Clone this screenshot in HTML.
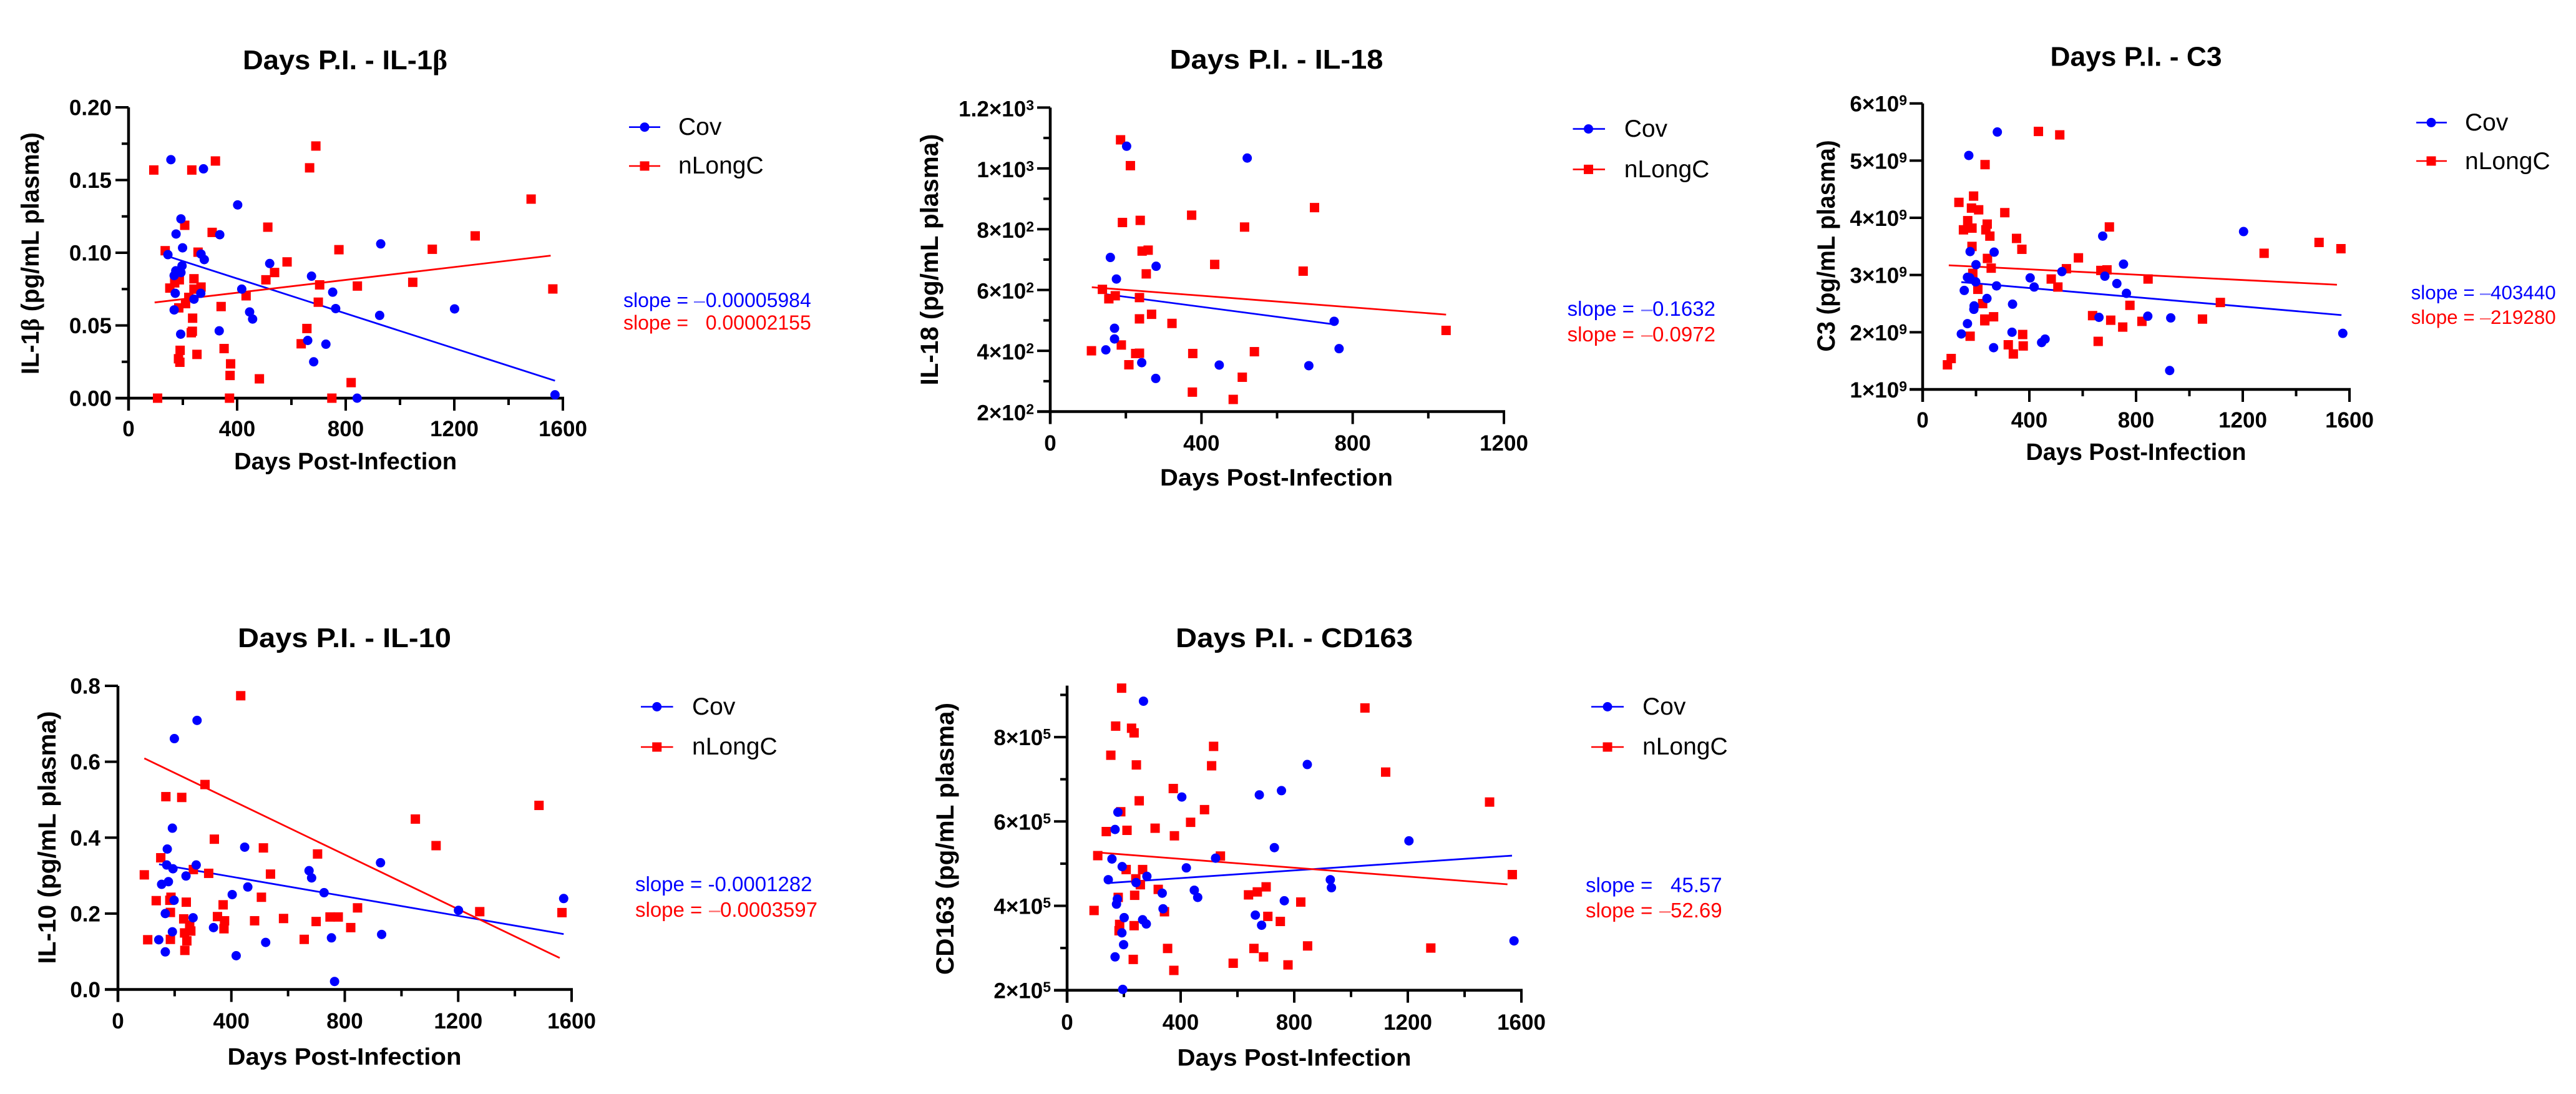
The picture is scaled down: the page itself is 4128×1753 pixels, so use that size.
<!DOCTYPE html>
<html lang="en">
<head>
<meta charset="utf-8">
<title>Days Post-Infection scatter panels</title>
<style>
html,body{margin:0;padding:0;background:#fff;width:4128px;height:1753px;overflow:hidden}
svg{display:block}
text{font-family:"Liberation Sans",sans-serif;fill:#000}
.title{font-size:44px;font-weight:700;text-anchor:middle}
.xtitle{font-size:38px;font-weight:700;text-anchor:middle}
.ytitle{font-size:40px;font-weight:700;text-anchor:middle}
.legend{font-size:39px}
.slope{font-size:32px}
.greek{font-family:"Liberation Serif",serif}
.tick-label{font-weight:700;font-size:35px}
</style>
</head>
<body>
<svg id="fig" xmlns="http://www.w3.org/2000/svg" width="4128" height="1753" viewBox="0 0 4128 1753">
<rect width="4128" height="1753" fill="#fff"/>

<g id="p-il1b">
  <g id="il1b-plot"></g>
  <text class="title" x="553" y="111" textLength="328" lengthAdjust="spacingAndGlyphs">Days P.I. - IL-1<tspan class="greek">β</tspan></text>
  <text class="xtitle" x="553.6" y="752" textLength="357" lengthAdjust="spacingAndGlyphs">Days Post-Infection</text>
  <text class="ytitle" transform="translate(62,406) rotate(-90)" textLength="388" lengthAdjust="spacingAndGlyphs">IL-1<tspan class="greek">β</tspan> (pg/mL plasma)</text>
  <g>
    <line x1="1008" x2="1058" y1="203.7" y2="203.7" stroke="#00f" stroke-width="2.6"/>
    <circle cx="1033" cy="203.7" r="7.5" fill="#00f"/>
    <text class="legend" x="1087" y="216">Cov</text>
    <line x1="1008" x2="1058" y1="266" y2="266" stroke="#f00" stroke-width="2.6"/>
    <rect x="1025.5" y="258.5" width="15" height="15" fill="#f00"/>
    <text class="legend" x="1087" y="278">nLongC</text>
  </g>
  <text class="slope" x="999" y="492" style="fill:#00f">slope = <tspan x="1112" fill-opacity="0.6" style="fill:#00f">–</tspan><tspan x="1130.7" style="fill:#00f">0.00005984</tspan></text>
  <text class="slope" x="999" y="528" style="fill:#f00">slope = <tspan x="1130.7" style="fill:#f00">0.00002155</tspan></text>
</g>

<g id="p-il18">
  <g id="il18-plot"></g>
  <text class="title" x="2045.5" y="110" textLength="342" lengthAdjust="spacingAndGlyphs">Days P.I. - IL-18</text>
  <text class="xtitle" x="2045.5" y="778" textLength="373" lengthAdjust="spacingAndGlyphs">Days Post-Infection</text>
  <text class="ytitle" transform="translate(1503,416) rotate(-90)" textLength="403" lengthAdjust="spacingAndGlyphs">IL-18 (pg/mL plasma)</text>
  <g>
    <line x1="2520.5" x2="2572" y1="206.6" y2="206.6" stroke="#00f" stroke-width="2.6"/>
    <circle cx="2545.5" cy="206.6" r="7.5" fill="#00f"/>
    <text class="legend" x="2602.7" y="219">Cov</text>
    <line x1="2520.5" x2="2572" y1="271.4" y2="271.4" stroke="#f00" stroke-width="2.6"/>
    <rect x="2538" y="263.9" width="15" height="15" fill="#f00"/>
    <text class="legend" x="2602.7" y="284">nLongC</text>
  </g>
  <text class="slope" x="2511.6" y="506" style="fill:#00f;font-size:33px">slope = <tspan x="2630" fill-opacity="0.6" style="fill:#00f">–</tspan><tspan x="2648" style="fill:#00f">0.1632</tspan></text>
  <text class="slope" x="2511.6" y="547" style="fill:#f00;font-size:33px">slope = <tspan x="2630" fill-opacity="0.6" style="fill:#f00">–</tspan><tspan x="2648" style="fill:#f00">0.0972</tspan></text>
</g>

<g id="p-c3">
  <g id="c3-plot"></g>
  <text class="title" x="3423" y="105.6" textLength="275" lengthAdjust="spacingAndGlyphs">Days P.I. - C3</text>
  <text class="xtitle" x="3423" y="737" textLength="353" lengthAdjust="spacingAndGlyphs">Days Post-Infection</text>
  <text class="ytitle" transform="translate(2940,394) rotate(-90)" textLength="339" lengthAdjust="spacingAndGlyphs">C3 (pg/mL plasma)</text>
  <g>
    <line x1="3872" x2="3921" y1="196.4" y2="196.4" stroke="#00f" stroke-width="2.6"/>
    <circle cx="3896" cy="196.4" r="7.5" fill="#00f"/>
    <text class="legend" x="3950" y="209">Cov</text>
    <line x1="3872" x2="3921" y1="258" y2="258" stroke="#f00" stroke-width="2.6"/>
    <rect x="3888.5" y="250.5" width="15" height="15" fill="#f00"/>
    <text class="legend" x="3950" y="271">nLongC</text>
  </g>
  <text class="slope" x="3863.6" y="479.6" style="fill:#00f;font-size:31.4px">slope = <tspan x="3974" fill-opacity="0.6" style="fill:#00f">–</tspan><tspan x="3991" style="fill:#00f">403440</tspan></text>
  <text class="slope" x="3863.6" y="519" style="fill:#f00;font-size:31.4px">slope = <tspan x="3974" fill-opacity="0.6" style="fill:#f00">–</tspan><tspan x="3991" style="fill:#f00">219280</tspan></text>
</g>

<g id="p-il10">
  <g id="il10-plot"></g>
  <text class="title" x="552" y="1037" textLength="342" lengthAdjust="spacingAndGlyphs">Days P.I. - IL-10</text>
  <text class="xtitle" x="552" y="1706" textLength="375" lengthAdjust="spacingAndGlyphs">Days Post-Infection</text>
  <text class="ytitle" transform="translate(89,1342) rotate(-90)" textLength="405" lengthAdjust="spacingAndGlyphs">IL-10 (pg/mL plasma)</text>
  <g>
    <line x1="1027" x2="1078.6" y1="1132.5" y2="1132.5" stroke="#00f" stroke-width="2.6"/>
    <circle cx="1052.7" cy="1132.5" r="7.5" fill="#00f"/>
    <text class="legend" x="1109" y="1145">Cov</text>
    <line x1="1027" x2="1078.6" y1="1197" y2="1197" stroke="#f00" stroke-width="2.6"/>
    <rect x="1045.2" y="1189.5" width="15" height="15" fill="#f00"/>
    <text class="legend" x="1109" y="1209">nLongC</text>
  </g>
  <text class="slope" x="1018" y="1428" style="fill:#00f;font-size:33px">slope = -0.0001282</text>
  <text class="slope" x="1018" y="1469" style="fill:#f00;font-size:33px">slope = <tspan x="1136" fill-opacity="0.6" style="fill:#f00">–</tspan><tspan x="1154" style="fill:#f00">0.0003597</tspan></text>
</g>

<g id="p-cd163">
  <g id="cd163-plot"></g>
  <text class="title" x="2074" y="1037" textLength="380" lengthAdjust="spacingAndGlyphs">Days P.I. - CD163</text>
  <text class="xtitle" x="2074" y="1707.6" textLength="375" lengthAdjust="spacingAndGlyphs">Days Post-Infection</text>
  <text class="ytitle" transform="translate(1528,1344) rotate(-90)" textLength="436" lengthAdjust="spacingAndGlyphs">CD163 (pg/mL plasma)</text>
  <g>
    <line x1="2550" x2="2602" y1="1132.5" y2="1132.5" stroke="#00f" stroke-width="2.6"/>
    <circle cx="2576" cy="1132.5" r="7.5" fill="#00f"/>
    <text class="legend" x="2632" y="1145">Cov</text>
    <line x1="2550" x2="2602" y1="1197" y2="1197" stroke="#f00" stroke-width="2.6"/>
    <rect x="2568.5" y="1189.5" width="15" height="15" fill="#f00"/>
    <text class="legend" x="2632" y="1209">nLongC</text>
  </g>
  <text class="slope" x="2541" y="1429.4" style="fill:#00f;font-size:33px">slope = <tspan x="2677" style="fill:#00f">45.57</tspan></text>
  <text class="slope" x="2541" y="1470" style="fill:#f00;font-size:33px">slope = <tspan x="2659" fill-opacity="0.6" style="fill:#f00">–</tspan><tspan x="2677" style="fill:#f00">52.69</tspan></text>
</g>
</svg>

<script>
/* ---------- shared tick data ---------- */
const xMajor1600 = [0, 400, 800, 1200, 1600];
const xMinor1600 = [200, 600, 1000, 1400];
const xMajor1200 = [0, 400, 800, 1200];
const xMinor1200 = [200, 600, 1000];

/* ---------- IL-1beta ---------- */
const il1bCovDays = [156,276,402,193,175,336,199,145,267,279,929,520,197,174,193,168,674,417,172,266,752,241,168,763,446,457,925,334,192,660,727,682,842,1201,1571];
const il1bCovValues = [.164,.1577,.1329,.1233,.1129,.1124,.1034,.0987,.0991,.0953,.1061,.0926,.091,.0876,.0864,.0843,.0839,.075,.0721,.0721,.0729,.0681,.0607,.0616,.0593,.0544,.0569,.0463,.044,.0397,.0371,.025,0,.0614,.0023];
const il1bLongDays = [93,233,320,690,667,207,308,513,135,256,775,1119,584,538,506,241,187,170,152,267,241,704,843,1047,433,222,210,699,185,341,236,235,231,657,636,352,190,184,189,252,376,374,482,820,107,372,749,1277,1483,1563];
const il1bLongValues = [.1569,.1569,.1631,.1734,.1584,.1189,.114,.1176,.1014,.1004,.1021,.1024,.0937,.0864,.0814,.0821,.0814,.0793,.0757,.0764,.075,.0779,.0771,.0797,.0704,.0693,.065,.066,.0621,.063,.055,.046,.045,.0479,.0374,.0341,.0329,.0271,.0247,.0301,.0236,.0156,.0133,.0107,0,0,0,.1116,.1369,.0751];
const il1bCovTrendDays = [146,1571];
const il1bCovTrendValues = [.0975,.012];
const il1bLongTrendDays = [96,1555];
const il1bLongTrendValues = [.0658,.098];
const il1bYMajor = [0,.05,.1,.15,.2];
const il1bYMinor = [.025,.075,.125,.175];
const il1bYLabels = ["0.00","0.05","0.10","0.15","0.20"];

/* ---------- IL-18 ---------- */
const il18CovDays = [202,521,159,280,175,170,170,147,242,447,684,279,751,764];
const il18CovValues = [1073,1034,707,678,636,474,439,403,361,353,351,309,497,407];
const il18LongDays = [186,212,699,374,191,238,514,243,259,435,669,254,138,172,155,236,268,236,322,188,109,226,236,377,540,208,508,376,484,1047];
const il18LongValues = [1094,1009,871,846,822,829,807,728,731,684,662,653,602,581,571,575,520,505,490,419,400,391,392,391,397,354,313,264,240,467];
const il18CovTrendDays = [147,751];
const il18CovTrendValues = [586,487];
const il18LongTrendDays = [110,1047];
const il18LongTrendValues = [609,519];
const il18YMajor = [200,400,600,800,1000,1200];
const il18YMinor = [300,500,700,900,1100];
const il18YLabels = ["2×10","4×10","6×10","8×10","1×10","1.2×10"];
const il18YExps = ["2","2","2","2","3","3"];

/* ---------- C3 (values in units of 10^9) ---------- */
const c3CovDays = [280,173,675,178,268,753,200,522,168,177,199,403,683,728,277,418,764,156,241,337,193,192,168,661,844,930,145,335,459,446,266,926,1203,1575];
const c3CovValues = [5.5,5.09,3.68,3.41,3.4,3.19,3.18,3.06,2.96,2.95,2.88,2.95,2.98,2.85,2.81,2.79,2.68,2.73,2.59,2.49,2.46,2.4,2.15,2.26,2.28,2.25,1.97,2,1.88,1.82,1.73,1.33,3.76,1.98];
const c3LongDays = [434,514,234,191,136,183,210,308,169,242,185,153,237,252,700,352,372,185,243,584,257,539,188,668,691,482,845,507,207,225,777,1116,637,266,233,233,705,822,1049,750,178,375,377,321,658,340,107,93,1280,1486,1568];
const c3LongValues = [5.51,5.45,4.93,4.38,4.27,4.17,4.14,4.09,3.95,3.89,3.82,3.79,3.79,3.68,3.84,3.64,3.45,3.5,3.29,3.3,3.12,3.11,3.03,3.08,3.09,2.93,2.93,2.79,2.75,2.5,2.47,2.52,2.29,2.27,2.23,2.2,2.21,2.19,2.23,2.09,1.93,1.96,1.76,1.78,1.84,1.62,1.54,1.43,3.38,3.57,3.46];
const c3CovTrendDays = [145,1570];
const c3CovTrendValues = [2.876,2.3];
const c3LongTrendDays = [98,1553];
const c3LongTrendValues = [3.17,2.83];
const c3YMajor = [1,2,3,4,5,6];
const c3YMinor = [];
const c3YLabels = ["1×10","2×10","3×10","4×10","5×10","6×10"];
const c3YExps = ["9","9","9","9","9","9"];

/* ---------- IL-10 ---------- */
const il10CovDays = [279,199,192,174,447,926,172,194,276,240,674,683,458,403,727,178,154,198,167,265,337,192,144,167,521,417,753,930,764,1201,1572];
const il10CovValues = [.709,.661,.425,.37,.375,.334,.328,.318,.328,.299,.313,.294,.27,.25,.255,.284,.277,.235,.2,.189,.163,.152,.131,.099,.124,.089,.136,.145,.021,.2085,.2396];
const il10LongDays = [433,307,169,225,1049,340,513,704,151,266,320,93,538,506,845,187,371,135,183,241,185,232,351,376,482,584,699,748,777,253,374,235,257,821,105,185,243,657,236,1122,1276,1485,1566];
const il10LongValues = [.774,.54,.508,.506,.449,.396,.373,.357,.347,.316,.306,.302,.304,.243,.215,.243,.223,.234,.235,.23,.203,.186,.192,.181,.181,.187,.179,.191,.191,.17,.16,.149,.154,.163,.131,.132,.128,.132,.103,.379,.205,.485,.2025];
const il10CovTrendDays = [145,1572];
const il10CovTrendValues = [.33,.146];
const il10LongTrendDays = [93,1558];
const il10LongTrendValues = [.609,.083];
const il10YMajor = [0,.2,.4,.6,.8];
const il10YMinor = [];
const il10YLabels = ["0.0","0.2","0.4","0.6","0.8"];

/* ---------- CD163 (values in units of 10^5) ---------- */
const cd163CovDays = [269,846,755,677,404,179,169,730,523,158,194,420,281,145,243,448,460,335,177,174,338,765,201,266,279,663,685,193,199,169,196,1204,927,931,1574];
const cd163CovValues = [8.85,7.35,6.73,6.63,6.58,6.22,5.81,5.38,5.13,5.11,4.93,4.9,4.7,4.62,4.55,4.37,4.2,4.3,4.16,4.04,3.93,4.12,3.72,3.67,3.57,3.78,3.54,3.36,3.08,2.79,2.02,5.54,4.62,4.43,3.17];
const cd163LongDays = [192,171,227,236,516,154,244,509,374,254,484,189,435,310,138,211,378,540,108,208,266,242,258,321,701,670,639,180,238,823,95,343,707,751,185,183,236,354,658,847,692,233,585,778,376,1049,1122,1488,1281,1568];
const cd163LongValues = [9.16,8.26,8.21,8.1,7.78,7.57,7.34,7.32,6.78,6.49,6.28,6.23,5.98,5.84,5.76,5.79,5.66,5.18,5.19,4.86,4.86,4.64,4.5,4.39,4.45,4.33,4.26,4.2,4.25,4.09,3.89,3.86,3.75,3.63,3.56,3.41,3.53,2.99,2.99,3.05,2.79,2.73,2.64,2.6,2.47,8.69,7.17,6.46,3,4.74];
const cd163CovTrendDays = [143,1567];
const cd163CovTrendValues = [4.54,5.19];
const cd163LongTrendDays = [98,1551];
const cd163LongTrendValues = [5.27,4.51];
const cd163YMajor = [2,4,6,8];
const cd163YMinor = [3,5,7,9];
const cd163YLabels = ["2×10","4×10","6×10","8×10"];
const cd163YExps = ["5","5","5","5"];

/* ---------- drawing ---------- */
const NS = 'http://www.w3.org/2000/svg';
function mk(parent, tag, attrs) {
  const el = document.createElementNS(NS, tag);
  for (const k in attrs) el.setAttribute(k, attrs[k]);
  parent.appendChild(el);
  return el;
}
function linearScale(d0, d1, r0, r1) {
  return function (v) { return r0 + (v - d0) / (d1 - d0) * (r1 - r0); };
}

function drawPanel(cfg) {
  const g = document.getElementById(cfg.id);
  const sx = linearScale(cfg.xDomain[0], cfg.xDomain[1], cfg.x0, cfg.x1);
  const sy = linearScale(cfg.yDomain[0], cfg.yDomain[1], cfg.yb, cfg.yt);
  const AW = 4.5;

  const yAxis = mk(g, 'line', {x1: cfg.x0, x2: cfg.x0, y1: cfg.yt, y2: cfg.yb + 20, stroke: '#000', 'stroke-width': AW});
  
  
  const xAxis = mk(g, 'line', {x1: cfg.x0 - 21, x2: cfg.x1 + 2, y1: cfg.yb, y2: cfg.yb, stroke: '#000', 'stroke-width': AW});
  
  

  cfg.xMajor.forEach(function (v) {
    const t = mk(g, 'line', {x1: sx(v), x2: sx(v), y1: cfg.yb, y2: cfg.yb + 20, stroke: '#000', 'stroke-width': 4});
    
    
    const l = mk(g, 'text', {x: sx(v), y: cfg.xLabelY, 'text-anchor': 'middle', class: 'tick-label'});
    l.textContent = String(v);
    
    
  });
  cfg.xMinor.forEach(function (v) {
    const t = mk(g, 'line', {x1: sx(v), x2: sx(v), y1: cfg.yb, y2: cfg.yb + 11, stroke: '#000', 'stroke-width': 4});
    
    
  });
  cfg.yMajor.forEach(function (v, i) {
    const t = mk(g, 'line', {x1: cfg.x0 - 21, x2: cfg.x0, y1: sy(v), y2: sy(v), stroke: '#000', 'stroke-width': 4});
    
    
    const l = mk(g, 'text', {x: cfg.yLabelX, y: sy(v) + cfg.yLabelDy, 'text-anchor': 'end', class: 'tick-label'});
    
    
    l.appendChild(document.createTextNode(cfg.yLabels[i]));
    if (cfg.yExps) {
      const s = mk(l, 'tspan', {dy: -10, 'font-size': 23});
      s.textContent = cfg.yExps[i];
    }
  });
  cfg.yMinor.forEach(function (v) {
    const t = mk(g, 'line', {x1: cfg.x0 - 11, x2: cfg.x0, y1: sy(v), y2: sy(v), stroke: '#000', 'stroke-width': 4});
    
    
  });

  const covLine = mk(g, 'line', {x1: sx(cfg.covTrendX[0]), x2: sx(cfg.covTrendX[1]), y1: sy(cfg.covTrendY[0]), y2: sy(cfg.covTrendY[1]), stroke: '#00f', 'stroke-width': 2.8});
  
  
  const longLine = mk(g, 'line', {x1: sx(cfg.longTrendX[0]), x2: sx(cfg.longTrendX[1]), y1: sy(cfg.longTrendY[0]), y2: sy(cfg.longTrendY[1]), stroke: '#f00', 'stroke-width': 2.8});
  
  

  cfg.longX.forEach(function (v, i) {
    const r = mk(g, 'rect', {x: sx(v) - 7.5, y: sy(cfg.longY[i]) - 7.5, width: 15, height: 15, fill: '#f00'});
    
    
  });
  cfg.covX.forEach(function (v, i) {
    const c = mk(g, 'circle', {cx: sx(v), cy: sy(cfg.covY[i]), r: 7.5, fill: '#00f'});
    
    
  });
}

drawPanel({id:'il1b-plot', x0:206, x1:902, yb:638, yt:172, xDomain:[0,1600], yDomain:[0,.2],
  xMajor:xMajor1600, xMinor:xMinor1600, yMajor:il1bYMajor, yMinor:il1bYMinor, yLabels:il1bYLabels,
  xLabelY:699, yLabelX:179, yLabelDy:12.5,
  covX:il1bCovDays, covY:il1bCovValues, longX:il1bLongDays, longY:il1bLongValues,
  covTrendX:il1bCovTrendDays, covTrendY:il1bCovTrendValues, longTrendX:il1bLongTrendDays, longTrendY:il1bLongTrendValues});

drawPanel({id:'il18-plot', x0:1683, x1:2410, yb:659.5, yt:172.4, xDomain:[0,1200], yDomain:[200,1200],
  xMajor:xMajor1200, xMinor:xMinor1200, yMajor:il18YMajor, yMinor:il18YMinor, yLabels:il18YLabels, yExps:il18YExps,
  xLabelY:722, yLabelX:1657, yLabelDy:14,
  covX:il18CovDays, covY:il18CovValues, longX:il18LongDays, longY:il18LongValues,
  covTrendX:il18CovTrendDays, covTrendY:il18CovTrendValues, longTrendX:il18LongTrendDays, longTrendY:il18LongTrendValues});

drawPanel({id:'c3-plot', x0:3081, x1:3765, yb:624, yt:165.7, xDomain:[0,1600], yDomain:[1,6],
  xMajor:xMajor1600, xMinor:xMinor1600, yMajor:c3YMajor, yMinor:c3YMinor, yLabels:c3YLabels, yExps:c3YExps,
  xLabelY:685, yLabelX:3056, yLabelDy:13,
  covX:c3CovDays, covY:c3CovValues, longX:c3LongDays, longY:c3LongValues,
  covTrendX:c3CovTrendDays, covTrendY:c3CovTrendValues, longTrendX:c3LongTrendDays, longTrendY:c3LongTrendValues});

drawPanel({id:'il10-plot', x0:189, x1:916, yb:1585.5, yt:1099, xDomain:[0,1600], yDomain:[0,.8],
  xMajor:xMajor1600, xMinor:xMinor1600, yMajor:il10YMajor, yMinor:il10YMinor, yLabels:il10YLabels,
  xLabelY:1648, yLabelX:161, yLabelDy:12.5,
  covX:il10CovDays, covY:il10CovValues, longX:il10LongDays, longY:il10LongValues,
  covTrendX:il10CovTrendDays, covTrendY:il10CovTrendValues, longTrendX:il10LongTrendDays, longTrendY:il10LongTrendValues});

drawPanel({id:'cd163-plot', x0:1710, x1:2438, yb:1586.7, yt:1098.6, xDomain:[0,1600], yDomain:[2,9.22],
  xMajor:xMajor1600, xMinor:xMinor1600, yMajor:cd163YMajor, yMinor:cd163YMinor, yLabels:cd163YLabels, yExps:cd163YExps,
  xLabelY:1650, yLabelX:1684, yLabelDy:13,
  covX:cd163CovDays, covY:cd163CovValues, longX:cd163LongDays, longY:cd163LongValues,
  covTrendX:cd163CovTrendDays, covTrendY:cd163CovTrendValues, longTrendX:cd163LongTrendDays, longTrendY:cd163LongTrendValues});
</script>
</body>
</html>
